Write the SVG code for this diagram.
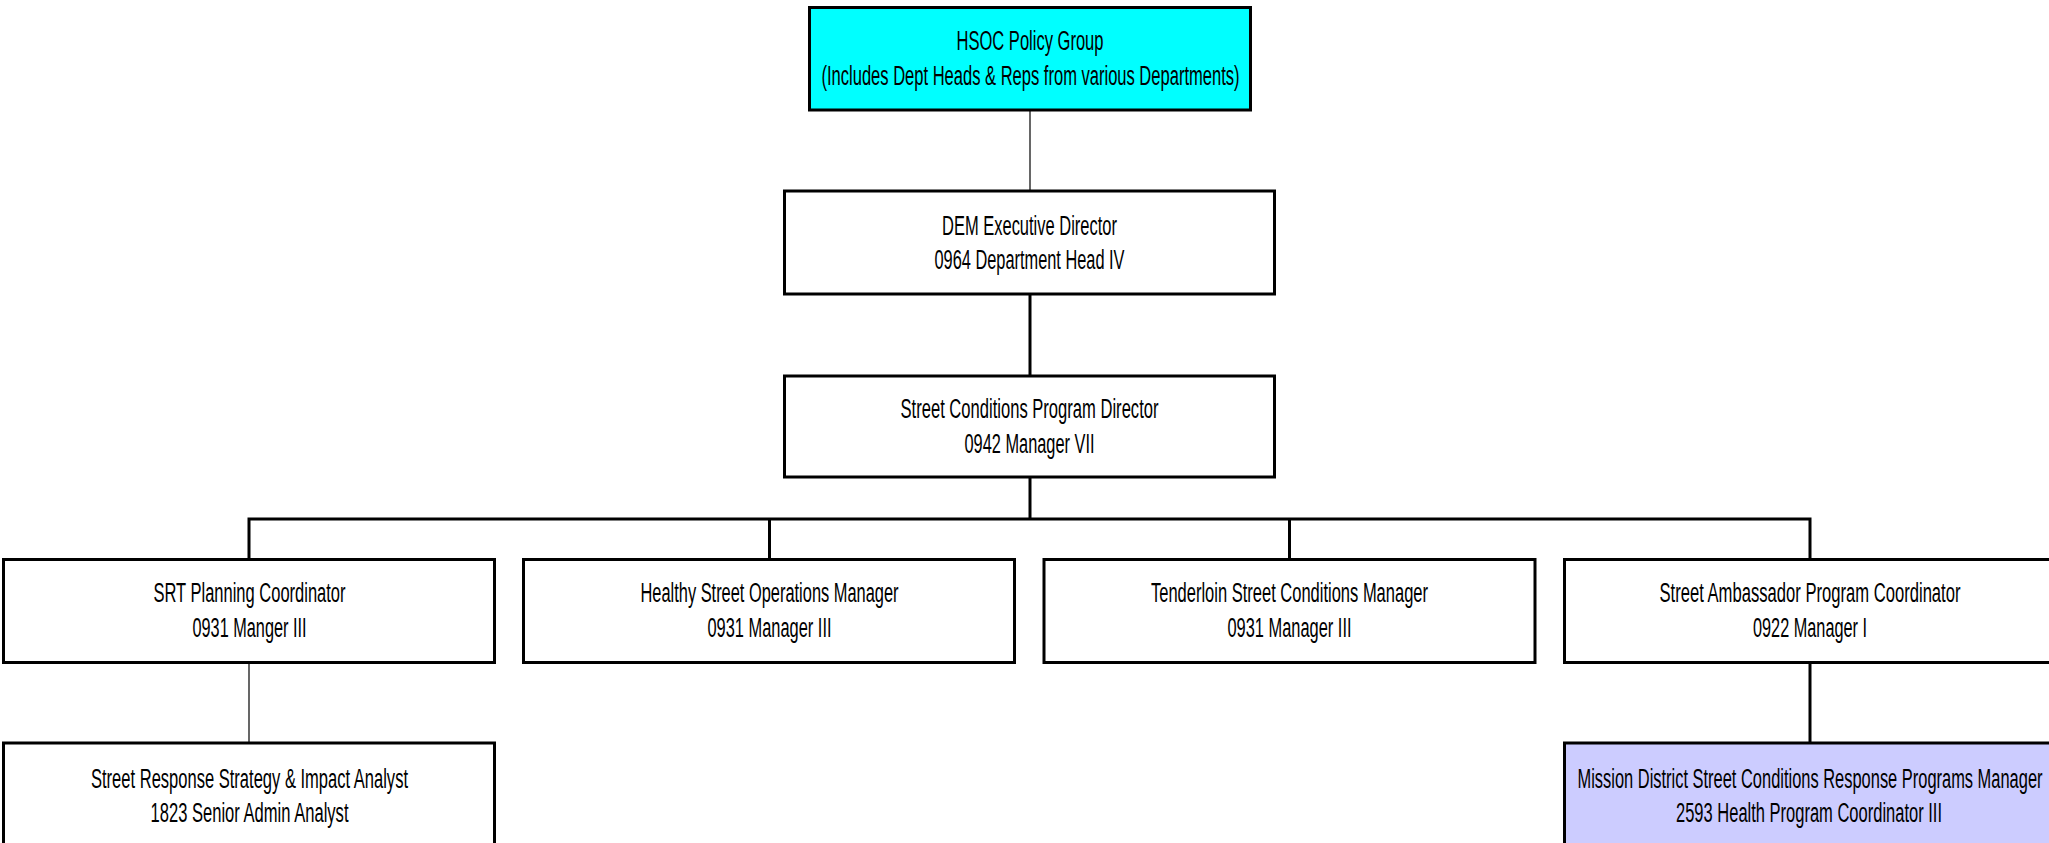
<svg xmlns="http://www.w3.org/2000/svg" width="2049" height="843" viewBox="0 0 2049 843">
<style>
.box{fill:#ffffff;stroke:#000000;stroke-width:3}
.cyan{fill:#00ffff}
.lav{fill:#ccccff}
.t{font-family:"Liberation Sans Narrow","Liberation Sans",Arial,sans-serif;font-size:27px;fill:#000000;text-anchor:middle}
.thin{stroke:#000000;stroke-width:1.2;fill:none}
.thick{stroke:#000000;stroke-width:3;fill:none}
</style>
<rect x="0" y="0" width="2049" height="843" fill="#ffffff"/>
<g id="connectors">
<line class="thin" x1="1030" y1="110" x2="1030" y2="191"/>
<line class="thick" x1="1030" y1="294" x2="1030" y2="376"/>
<line class="thick" x1="1030" y1="477" x2="1030" y2="519"/>
<polyline class="thick" points="249,559.5 249,519 1810,519 1810,559.5"/>
<line class="thick" x1="769.5" y1="519" x2="769.5" y2="559.5"/>
<line class="thick" x1="1289.5" y1="519" x2="1289.5" y2="559.5"/>
<line class="thin" x1="249" y1="662.5" x2="249" y2="743"/>
<line class="thick" x1="1810" y1="662.5" x2="1810" y2="743"/>
</g>
<g id="hsoc">
<rect class="box cyan" x="809.5" y="7.5" width="441" height="102.5"/>
<text class="t" x="1030" y="50" textLength="147" lengthAdjust="spacingAndGlyphs">HSOC Policy Group</text>
<text class="t" x="1030.5" y="84.5" textLength="418" lengthAdjust="spacingAndGlyphs">(Includes Dept Heads &amp; Reps from various Departments)</text>
</g>
<g id="dem">
<rect class="box" x="784.5" y="191" width="490" height="103"/>
<text class="t" x="1029.5" y="234.5" textLength="175" lengthAdjust="spacingAndGlyphs">DEM Executive Director</text>
<text class="t" x="1029.5" y="268.5" textLength="190" lengthAdjust="spacingAndGlyphs">0964 Department Head IV</text>
</g>
<g id="scpd">
<rect class="box" x="784.5" y="376" width="490" height="101"/>
<text class="t" x="1029.5" y="418" textLength="258" lengthAdjust="spacingAndGlyphs">Street Conditions Program Director</text>
<text class="t" x="1029.5" y="453" textLength="130" lengthAdjust="spacingAndGlyphs">0942 Manager VII</text>
</g>
<g id="srt">
<rect class="box" x="3.5" y="559.5" width="491" height="103"/>
<text class="t" x="249.5" y="602" textLength="192" lengthAdjust="spacingAndGlyphs">SRT Planning Coordinator</text>
<text class="t" x="249.5" y="637" textLength="114" lengthAdjust="spacingAndGlyphs">0931 Manger III</text>
</g>
<g id="healthy">
<rect class="box" x="523.5" y="559.5" width="491" height="103"/>
<text class="t" x="769.5" y="602" textLength="258" lengthAdjust="spacingAndGlyphs">Healthy Street Operations Manager</text>
<text class="t" x="769.5" y="637" textLength="124" lengthAdjust="spacingAndGlyphs">0931 Manager III</text>
</g>
<g id="tenderloin">
<rect class="box" x="1044" y="559.5" width="491" height="103"/>
<text class="t" x="1289.5" y="602" textLength="277" lengthAdjust="spacingAndGlyphs">Tenderloin Street Conditions Manager</text>
<text class="t" x="1289.5" y="637" textLength="124" lengthAdjust="spacingAndGlyphs">0931 Manager III</text>
</g>
<g id="ambassador">
<rect class="box" x="1564.5" y="559.5" width="491" height="103"/>
<text class="t" x="1810" y="602" textLength="301" lengthAdjust="spacingAndGlyphs">Street Ambassador Program Coordinator</text>
<text class="t" x="1810" y="637" textLength="114" lengthAdjust="spacingAndGlyphs">0922 Manager I</text>
</g>
<g id="analyst">
<rect class="box" x="3.5" y="743" width="491" height="103"/>
<text class="t" x="249.5" y="788" textLength="317" lengthAdjust="spacingAndGlyphs">Street Response Strategy &amp; Impact Analyst</text>
<text class="t" x="249.5" y="822" textLength="198" lengthAdjust="spacingAndGlyphs">1823 Senior Admin Analyst</text>
</g>
<g id="mission">
<rect class="box lav" x="1564.5" y="743" width="491" height="103"/>
<text class="t" x="1810" y="788" textLength="465" lengthAdjust="spacingAndGlyphs">Mission District Street Conditions Response Programs Manager</text>
<text class="t" x="1809" y="822" textLength="266" lengthAdjust="spacingAndGlyphs">2593 Health Program Coordinator III</text>
</g>
</svg>
